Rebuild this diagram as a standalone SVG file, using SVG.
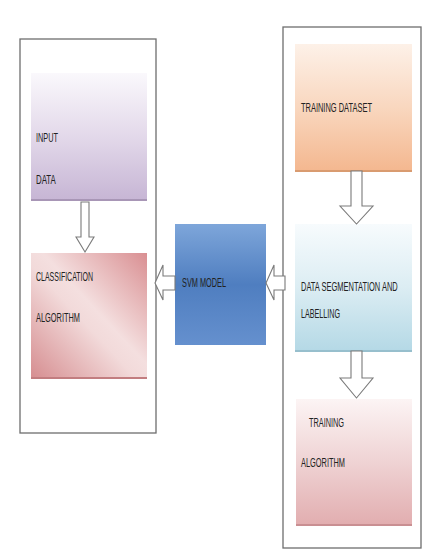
<svg xmlns="http://www.w3.org/2000/svg" width="424" height="550" viewBox="0 0 424 550">
<defs>
<linearGradient id="gPurple" x1="0" y1="0" x2="0" y2="1"><stop offset="0" stop-color="#faf8fc"/><stop offset="0.5" stop-color="#e3d9ea"/><stop offset="1" stop-color="#c7b6d5"/></linearGradient>
<linearGradient id="gRed" x1="1" y1="0" x2="0" y2="1"><stop offset="0" stop-color="#d98f92"/><stop offset="0.45" stop-color="#f4dfdf"/><stop offset="0.55" stop-color="#f2dada"/><stop offset="1" stop-color="#d68e91"/></linearGradient>
<linearGradient id="gOrange" x1="0" y1="0" x2="0" y2="1"><stop offset="0" stop-color="#fdf1e8"/><stop offset="0.5" stop-color="#f9d7bf"/><stop offset="1" stop-color="#f4b890"/></linearGradient>
<linearGradient id="gBlue" x1="0" y1="0" x2="0" y2="1"><stop offset="0" stop-color="#f7fbfd"/><stop offset="0.5" stop-color="#dcedf3"/><stop offset="1" stop-color="#b5d9e6"/></linearGradient>
<linearGradient id="gPink" x1="0" y1="0" x2="0" y2="1"><stop offset="0" stop-color="#fcf4f4"/><stop offset="0.5" stop-color="#efd3d4"/><stop offset="1" stop-color="#e2aeb0"/></linearGradient>
<linearGradient id="gSvm" x1="0" y1="0" x2="0" y2="1"><stop offset="0" stop-color="#7ea6da"/><stop offset="0.5" stop-color="#4f7ec0"/><stop offset="1" stop-color="#6590ce"/></linearGradient>
<style>
.frame{fill:#ffffff;stroke:#6e6e6e;stroke-width:1.3}
.box{stroke:none}
.arrow{fill:#ffffff;stroke:#7a7a7a;stroke-width:1.1}
text{font-family:"Liberation Sans","DejaVu Sans",sans-serif;font-size:13px;fill:#222222}
</style>
</defs>
<rect width="424" height="550" fill="#ffffff"/>
<g id="left-frame"><rect class="frame" x="20" y="39" width="136" height="394"/></g>
<g id="right-frame"><rect class="frame" x="283" y="27" width="138" height="521"/></g>

<g id="input-data">
<rect x="31" y="74" width="116" height="127" fill="#a896b6"/>
<rect class="box" x="31" y="73" width="116" height="126" fill="url(#gPurple)"/>
<text transform="translate(36,142) scale(0.62,1)" textLength="35.5" lengthAdjust="spacingAndGlyphs">INPUT</text>
<text transform="translate(36,184) scale(0.62,1)" textLength="32" lengthAdjust="spacingAndGlyphs">DATA</text>
</g>
<g id="classification-algorithm">
<rect x="31" y="254" width="116" height="125" fill="#c27d80"/>
<rect class="box" x="31" y="253" width="116" height="124" fill="url(#gRed)"/>
<text transform="translate(36,281) scale(0.62,1)" textLength="92" lengthAdjust="spacingAndGlyphs">CLASSIFICATION</text>
<text transform="translate(36,322) scale(0.62,1)" textLength="71" lengthAdjust="spacingAndGlyphs">ALGORITHM</text>
</g>
<g id="svm-model">
<rect class="box" x="175" y="224" width="91" height="121" fill="url(#gSvm)"/>
<text transform="translate(182,287) scale(0.62,1)" textLength="71" lengthAdjust="spacingAndGlyphs">SVM MODEL</text>
</g>
<g id="training-dataset">
<rect x="295" y="45" width="117" height="127" fill="#d99b70"/>
<rect class="box" x="295" y="44" width="117" height="126" fill="url(#gOrange)"/>
<text transform="translate(301,112) scale(0.62,1)" textLength="114.5" lengthAdjust="spacingAndGlyphs">TRAINING DATASET</text>
</g>
<g id="data-segmentation">
<rect x="295" y="225" width="117" height="127" fill="#97bfcd"/>
<rect class="box" x="295" y="224" width="117" height="126" fill="url(#gBlue)"/>
<text transform="translate(301,291) scale(0.62,1)" textLength="156" lengthAdjust="spacingAndGlyphs">DATA SEGMENTATION AND</text>
<text transform="translate(301,318) scale(0.62,1)" textLength="63" lengthAdjust="spacingAndGlyphs">LABELLING</text>
</g>
<g id="training-algorithm">
<rect x="296" y="400" width="116" height="126" fill="#c98f92"/>
<rect class="box" x="296" y="399" width="116" height="125" fill="url(#gPink)"/>
<text transform="translate(309,427) scale(0.62,1)" textLength="56.5" lengthAdjust="spacingAndGlyphs">TRAINING</text>
<text transform="translate(301,467) scale(0.62,1)" textLength="71" lengthAdjust="spacingAndGlyphs">ALGORITHM</text>
</g>

<g id="connectors">
<path class="arrow" d="M81,202 L89,202 L89,237 L94,237 L85,252 L76,237 L81,237 Z"/>
<path class="arrow" d="M351,171 L362,171 L362,206 L373,206 L356.5,224 L340,206 L351,206 Z"/>
<path class="arrow" d="M351,351 L362,351 L362,378 L373,378 L356.5,398 L340,378 L351,378 Z"/>
<path class="arrow" d="M175,276 L163,276 L163,265 L155,283 L163,300 L163,290 L175,290 Z"/>
<path class="arrow" d="M285,276 L274,276 L274,265 L266,283 L274,300 L274,290 L285,290 Z"/>
</g>
</svg>
